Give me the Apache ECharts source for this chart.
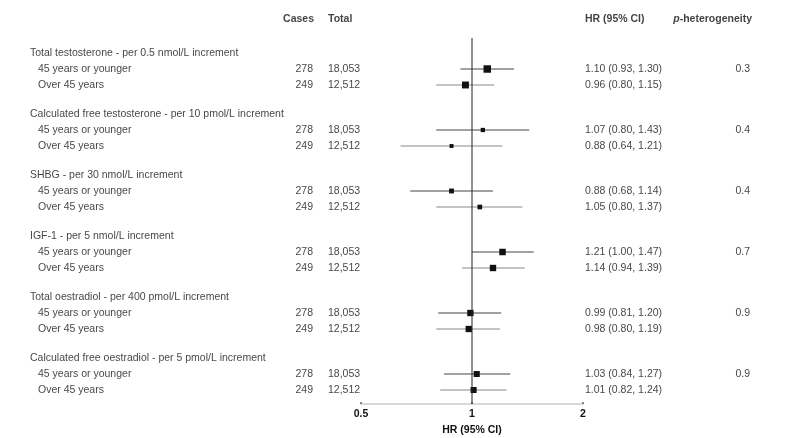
<!DOCTYPE html>
<html>
<head>
<meta charset="utf-8">
<script src="https://cdn.jsdelivr.net/npm/echarts@6/dist/echarts.min.js"></script>
<style>html,body{margin:0;padding:0;background:#fff}#c{width:790px;height:438px}</style>
</head>
<body>
<div id="c"></div>
<script>
// ---- data ----
const groups = [
  "Total testosterone - per 0.5 nmol/L increment",
  "Calculated free testosterone - per 10 pmol/L increment",
  "SHBG - per 30 nmol/L increment",
  "IGF-1 - per 5 nmol/L increment",
  "Total oestradiol - per 400 pmol/L increment",
  "Calculated free oestradiol - per 5 pmol/L increment"
];
const subgroups = ["45 years or younger", "Over 45 years"];
const cases = ["278", "249"];
const totals = ["18,053", "12,512"];
const hr   = [[1.10, 0.96], [1.07, 0.88], [0.88, 1.05], [1.21, 1.14], [0.99, 0.98], [1.03, 1.01]];
const lo   = [[0.93, 0.80], [0.80, 0.64], [0.68, 0.80], [1.00, 0.94], [0.81, 0.80], [0.84, 0.82]];
const hi   = [[1.30, 1.15], [1.43, 1.21], [1.14, 1.37], [1.47, 1.39], [1.20, 1.19], [1.27, 1.24]];
const pHet = ["0.3", "0.4", "0.4", "0.7", "0.9", "0.9"];
const xTicks = [0.5, 1, 2];

// ---- layout (row units) ----
const TOP_Y = 2.125, GROUP_STEP = 3.8125, Y_MAX = 24.0625, REF_TOP = 1.1875;
const titleY = g => TOP_Y + g * GROUP_STEP;
const rowY = (g, s) => titleY(g) + s + 1;
const fmt = v => v.toFixed(2);

const ciData = [];
const titleTxt = [], subTxt = [], casesTxt = [], totalTxt = [], hrTxt = [], pTxt = [];
groups.forEach((name, g) => {
  titleTxt.push([30, titleY(g), name]);
  pTxt.push([750, rowY(g, 0), pHet[g]]);
  subgroups.forEach((sg, s) => {
    const y = rowY(g, s);
    ciData.push([lo[g][s], hi[g][s], hr[g][s], y, s]);
    subTxt.push([38, y, sg]);
    casesTxt.push([313, y, cases[s]]);
    totalTxt.push([328, y, totals[s]]);
    hrTxt.push([585, y, fmt(hr[g][s]) + " (" + fmt(lo[g][s]) + ", " + fmt(hi[g][s]) + ")"]);
  });
});

const FONT = "'Liberation Sans', Arial, Helvetica, sans-serif";
const FS = 10.5;
const TXT = '#111';
function textSeries(data, align, bold) {
  return {
    type: 'scatter', xAxisIndex: 1, yAxisIndex: 1, symbolSize: 0.01, clip: false, silent: true,
    data: data,
    label: {
      show: true, position: 'inside', align: align, verticalAlign: 'middle',
      color: TXT, fontFamily: FONT, fontSize: FS, fontWeight: bold ? 'bold' : 'normal',
      formatter: p => p.value[2]
    }
  };
}

const chart = echarts.init(document.getElementById('c'));
chart.setOption({
  animation: false,
  grid: [
    { left: 361, width: 222, top: 19, height: 385, outerBoundsMode: 'none', containLabel: false },
    { left: 0, width: 790, top: 19, height: 385, outerBoundsMode: 'none', containLabel: false }
  ],
  xAxis: [
    {
      type: 'log', logBase: 2, min: xTicks[0], max: xTicks[xTicks.length - 1], gridIndex: 0,
      position: 'bottom',
      splitLine: { show: false },
      axisLine: { show: true, onZero: false, lineStyle: { color: '#d8d8d8', width: 2 } },
      axisTick: { show: true, length: 2, inside: true, lineStyle: { color: '#888', width: 2 } },
      axisLabel: { color: TXT, fontWeight: 'bold', fontFamily: FONT, fontSize: FS, margin: 5,
        formatter: v => String(+v.toFixed(2)) },
      name: 'HR (95% CI)', nameLocation: 'middle', nameGap: 17,
      nameTextStyle: { color: TXT, fontWeight: 'bold', fontFamily: FONT, fontSize: FS }
    },
    { type: 'value', min: 0, max: 790, gridIndex: 1, show: false }
  ],
  yAxis: [
    { type: 'value', inverse: true, min: 0, max: Y_MAX, gridIndex: 0, show: false },
    { type: 'value', inverse: true, min: 0, max: Y_MAX, gridIndex: 1, show: false }
  ],
  series: [
    {
      type: 'line', xAxisIndex: 0, yAxisIndex: 0, symbol: 'none', silent: true,
      data: [[1, REF_TOP], [1, Y_MAX]],
      lineStyle: { color: '#222', width: 1 }
    },
    {
      type: 'custom', xAxisIndex: 0, yAxisIndex: 0, clip: false, silent: true,
      encode: { x: [0, 1, 2], y: 3 },
      data: ciData,
      renderItem: function (params, api) {
        const l = api.value(0), h = api.value(1), m = api.value(2), y = api.value(3), s = api.value(4);
        const p1 = api.coord([l, y]), p2 = api.coord([h, y]), c = api.coord([m, y]);
        const size = 2.5 / (Math.log(h) - Math.log(l));
        return {
          type: 'group',
          children: [
            { type: 'line', shape: { x1: p1[0], y1: p1[1], x2: p2[0], y2: p2[1] },
              style: { stroke: s === 0 ? '#444' : '#888', lineWidth: 1 } },
            { type: 'rect', shape: { x: c[0] - size / 2, y: c[1] - size / 2, width: size, height: size },
              style: { fill: '#111' } }
          ]
        };
      }
    },
    textSeries(titleTxt, 'left', false),
    textSeries(subTxt, 'left', false),
    textSeries(casesTxt, 'right', false),
    textSeries(totalTxt, 'left', false),
    textSeries(hrTxt, 'left', false),
    textSeries(pTxt, 'right', false),
    textSeries([[314, 0, 'Cases']], 'right', true),
    textSeries([[328, 0, 'Total']], 'left', true),
    textSeries([[585, 0, 'HR (95% CI)']], 'left', true),
    {
      type: 'scatter', xAxisIndex: 1, yAxisIndex: 1, symbolSize: 0.01, clip: false, silent: true,
      data: [[752, 0, '']],
      label: {
        show: true, position: 'inside', align: 'right', verticalAlign: 'middle',
        formatter: () => '{i|p}{b|-heterogeneity}',
        rich: {
          i: { fontStyle: 'italic', fontWeight: 'bold', color: TXT, fontFamily: FONT, fontSize: FS },
          b: { fontWeight: 'bold', color: TXT, fontFamily: FONT, fontSize: FS }
        }
      }
    }
  ]
});
</script>
</body>
</html>
